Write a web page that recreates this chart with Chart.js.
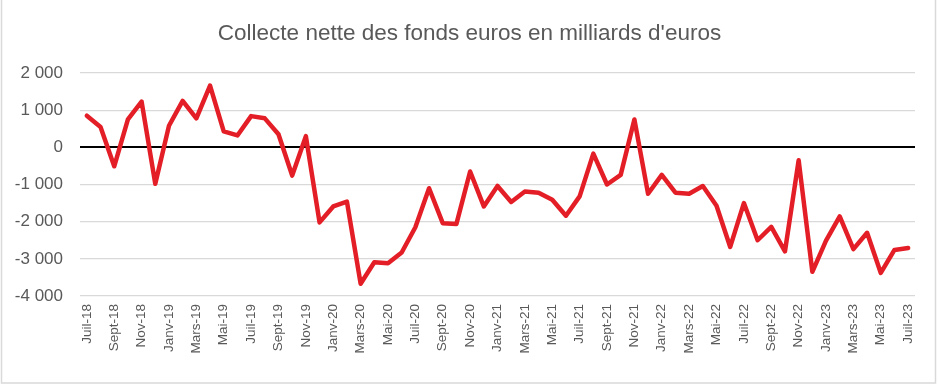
<!DOCTYPE html>
<html>
<head>
<meta charset="utf-8">
<script src="https://cdn.jsdelivr.net/npm/chart.js@4.4.1/dist/chart.umd.min.js"></script>
<style>
html,body{margin:0;padding:0;background:#fff;}
canvas{display:block;}
</style>
</head>
<body>
<canvas id="c" width="939" height="386"></canvas>
<script>
const chartTitle = "Collecte nette des fonds euros en milliards d'euros";
const categories = [
 "Juil-18","Août-18","Sept-18","Oct-18","Nov-18","Déc-18",
 "Janv-19","Févr-19","Mars-19","Avr-19","Mai-19","Juin-19","Juil-19","Août-19","Sept-19","Oct-19","Nov-19","Déc-19",
 "Janv-20","Févr-20","Mars-20","Avr-20","Mai-20","Juin-20","Juil-20","Août-20","Sept-20","Oct-20","Nov-20","Déc-20",
 "Janv-21","Févr-21","Mars-21","Avr-21","Mai-21","Juin-21","Juil-21","Août-21","Sept-21","Oct-21","Nov-21","Déc-21",
 "Janv-22","Févr-22","Mars-22","Avr-22","Mai-22","Juin-22","Juil-22","Août-22","Sept-22","Oct-22","Nov-22","Déc-22",
 "Janv-23","Févr-23","Mars-23","Avr-23","Mai-23","Juin-23","Juil-23"
];
const collecte = [
 850, 550, -510, 750, 1230, -980,
 580, 1250, 780, 1660, 430, 320, 840, 780, 350, -760, 300, -2020,
 -1590, -1460, -3670, -3090, -3120, -2830, -2150, -1100, -2040, -2060, -650, -1590,
 -1040, -1470, -1190, -1220, -1410, -1840, -1320, -170, -1000, -740, 750, -1250,
 -740, -1220, -1250, -1040, -1570, -2680, -1500, -2500, -2140, -2800, -350, -3350,
 -2510, -1860, -2740, -2300, -3380, -2760, -2710
];
const yMin = -4000, yMax = 2000, yStep = 1000;

function fmt(v){
  const s = v < 0 ? '-' : '';
  const a = Math.abs(v);
  if (a >= 1000) { return s + Math.floor(a/1000) + ' ' + String(a%1000).padStart(3,'0'); }
  return s + a;
}

const frame = {
  id:'frame',
  beforeDraw(chart){
    const c = chart.ctx;
    c.save();
    c.fillStyle = '#fff';
    c.fillRect(0,0,chart.width,chart.height);
    c.strokeStyle = '#d9d9d9';
    c.lineWidth = 1.5;
    c.strokeRect(1.5,-2,934,385);
    c.restore();
  }
};

new Chart(document.getElementById('c'), {
  type:'line',
  data:{
    labels: categories,
    datasets:[{
      data: collecte,
      yAxisID:'y',
      borderColor:'#E41E26',
      borderWidth:4.5,
      pointRadius:0,
      tension:0,
      borderJoinStyle:'round',
      borderCapStyle:'round',
      fill:false
    }]
  },
  options:{
    responsive:false,
    animation:false,
    layout:{padding:{left:10,right:10,top:0,bottom:0}},
    plugins:{
      legend:{display:false},
      tooltip:{enabled:false},
      title:{
        display:true,
        text: chartTitle,
        color:'#595959',
        font:{family:'Liberation Sans, Arial, sans-serif', size:22.5, weight:'normal', lineHeight:1.2},
        padding:{top:20,bottom:26}
      }
    },
    scales:{
      x:{
        offset:true,
        grid:{display:false, drawTicks:false},
        border:{display:false},
        ticks:{
          autoSkip:false,
          maxRotation:90,
          minRotation:90,
          padding:8,
          color:'#595959',
          font:{family:'Liberation Sans, Arial, sans-serif', size:13.5},
          callback:(v,i)=> i%2===0 ? categories[i] : ''
        },
        afterFit:(s)=>{ s.height = 90; }
      },
      y:{
        min:yMin, max:yMax,
        grid:{
          drawTicks:false,
          color:(ctx)=> ctx.tick && ctx.tick.value===0 ? '#000000' : '#d9d9d9',
          lineWidth:(ctx)=> ctx.tick && ctx.tick.value===0 ? 2 : 1.2
        },
        border:{display:false},
        ticks:{
          stepSize:yStep,
          padding:17,
          color:'#595959',
          font:{family:'Liberation Sans, Arial, sans-serif', size:17},
          callback:(v)=>fmt(v)
        },
        afterFit:(s)=>{ s.width = 70; }
      },
      yRight:{
        position:'right',
        min:yMin, max:yMax,
        grid:{display:false, drawTicks:false},
        border:{display:false},
        ticks:{display:false},
        afterFit:(s)=>{ s.width = 14; }
      }
    }
  },
  plugins:[frame]
});
</script>
</body>
</html>
